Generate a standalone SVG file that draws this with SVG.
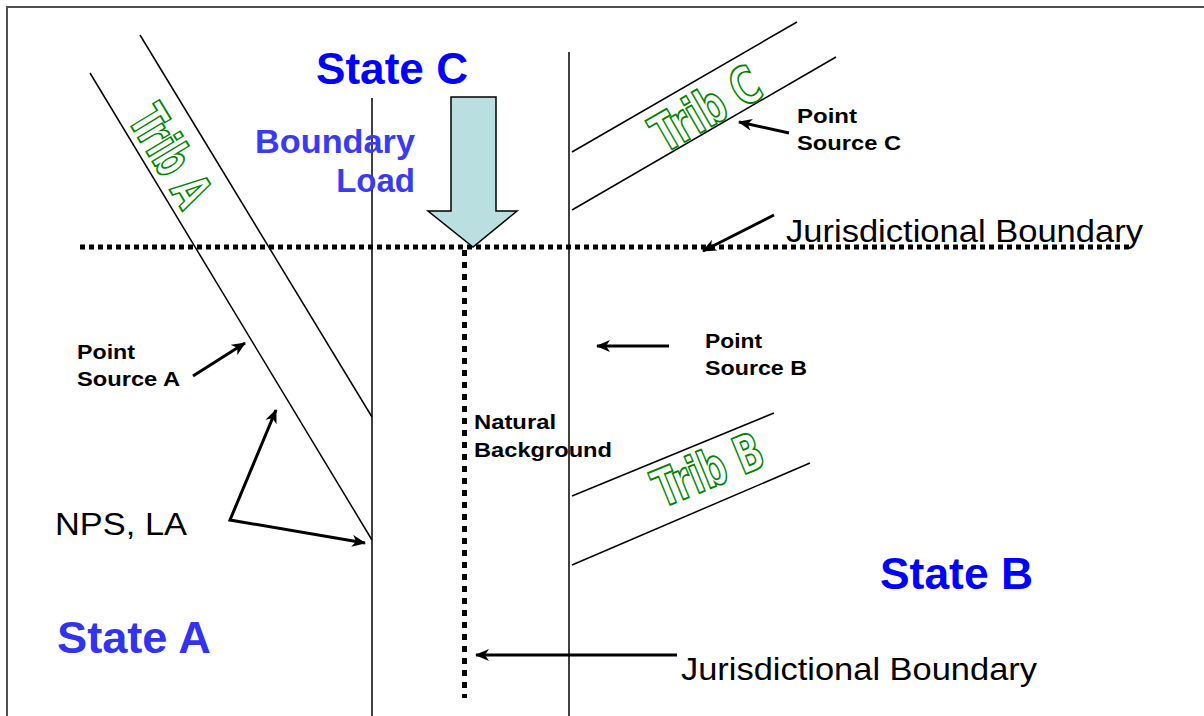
<svg xmlns="http://www.w3.org/2000/svg" width="1204" height="716" viewBox="0 0 1204 716">
<defs>
<style>
.ln{stroke:#000;stroke-width:1.5;fill:none}
.ar{stroke:#000;stroke-width:3;fill:none;marker-end:url(#ah)}
.dot{stroke:#000;stroke-width:5;fill:none}
.big{font-family:"Liberation Sans",Arial,sans-serif;font-weight:bold;font-size:44px}
.bl{font-family:"Liberation Sans",Arial,sans-serif;font-weight:bold;font-size:33px;fill:#3a3af0}
.lab{font-family:"Liberation Sans",Arial,sans-serif;font-weight:bold;font-size:21px;fill:#000}
.reg{font-family:"Liberation Sans",Arial,sans-serif;font-size:32px;fill:#000}
.trib{font-family:"DejaVu Sans Condensed","DejaVu Sans",sans-serif;font-weight:bold;font-size:52px;fill:#fff;stroke:#008000;stroke-width:1.8}
</style>
<marker id="ah" viewBox="0 0 14 12" refX="13" refY="6" markerWidth="14" markerHeight="12" markerUnits="userSpaceOnUse" orient="auto">
<path d="M0,0 L14,6 L0,12 L4,6 z" fill="#000"/>
</marker>
<marker id="ahs" viewBox="0 0 14 12" refX="1" refY="6" markerWidth="14" markerHeight="12" markerUnits="userSpaceOnUse" orient="auto">
<path d="M14,0 L0,6 L14,12 L10,6 z" fill="#000"/>
</marker>
</defs>
<rect width="1204" height="716" fill="#fff"/>
<path d="M7,716 V7 H1204" stroke="#505050" stroke-width="2" fill="none"/>

<g id="rivers">
<line class="ln" x1="372" y1="98" x2="372" y2="716"/>
<line class="ln" x1="569" y1="52" x2="569" y2="716"/>
<line class="ln" x1="90" y1="73" x2="372" y2="540"/>
<line class="ln" x1="140" y1="35" x2="372" y2="417"/>
<line class="ln" x1="572" y1="152" x2="797" y2="22"/>
<line class="ln" x1="572" y1="210" x2="836" y2="57"/>
<line class="ln" x1="572" y1="496" x2="774" y2="413"/>
<line class="ln" x1="572" y1="565" x2="810" y2="463"/>
</g>

<g id="boundaries">
<line class="dot" x1="80" y1="247" x2="1132" y2="247" stroke-dasharray="5 4"/>
<line class="dot" x1="464.5" y1="250" x2="464.5" y2="698" stroke-dasharray="6 6"/>
</g>

<g id="boundary-load-arrow">
<path d="M451,97 H496 V211 H517 L473,247 L428,211 H451 Z" fill="#b9dfe0" stroke="#000" stroke-width="1.5"/>
</g>

<g id="connectors">
<line class="ar" x1="193" y1="376" x2="245" y2="343"/>
<polyline class="ar" points="276,410 230,520 365,543" style="marker-start:url(#ahs)"/>
<line class="ar" x1="669" y1="346" x2="597" y2="346"/>
<line class="ar" x1="789" y1="133" x2="739" y2="122"/>
<line class="ar" x1="774" y1="215" x2="703" y2="251"/>
<line class="ar" x1="677" y1="655" x2="476" y2="655"/>
</g>

<g id="tribA"><text class="trib" transform="translate(170,156) rotate(58.8)" text-anchor="middle" dominant-baseline="central" textLength="108" lengthAdjust="spacingAndGlyphs">Trib A</text></g>
<g id="tribC"><text class="trib" transform="translate(706,109) rotate(-30)" text-anchor="middle" dominant-baseline="central" textLength="118" lengthAdjust="spacingAndGlyphs">Trib C</text></g>
<g id="tribB"><text class="trib" transform="translate(708,470) rotate(-22.3)" text-anchor="middle" dominant-baseline="central" textLength="114" lengthAdjust="spacingAndGlyphs">Trib B</text></g>

<g id="stateC"><text class="big" x="316" y="84" fill="#0000ff" textLength="152" lengthAdjust="spacingAndGlyphs">State C</text></g>
<g id="boundaryLoad">
<text class="bl" x="415" y="153" text-anchor="end" textLength="160" lengthAdjust="spacingAndGlyphs">Boundary</text>
<text class="bl" x="415" y="192" text-anchor="end">Load</text>
</g>
<g id="stateA"><text class="big" x="57" y="653" fill="#3333ee" textLength="154" lengthAdjust="spacingAndGlyphs">State A</text></g>
<g id="stateB"><text class="big" x="880" y="589" fill="#0000ff" textLength="153" lengthAdjust="spacingAndGlyphs">State B</text></g>

<g id="jbTop"><text class="reg" x="786" y="242" textLength="357" lengthAdjust="spacingAndGlyphs">Jurisdictional Boundary</text></g>
<g id="jbBottom"><text class="reg" x="681" y="680" textLength="356" lengthAdjust="spacingAndGlyphs">Jurisdictional Boundary</text></g>
<g id="nps"><text class="reg" x="55" y="535" textLength="132" lengthAdjust="spacingAndGlyphs">NPS, LA</text></g>

<g id="psA">
<text class="lab" x="77" y="359" textLength="58" lengthAdjust="spacingAndGlyphs">Point</text>
<text class="lab" x="77" y="386" textLength="103" lengthAdjust="spacingAndGlyphs">Source A</text>
</g>
<g id="psB">
<text class="lab" x="705" y="348" textLength="57" lengthAdjust="spacingAndGlyphs">Point</text>
<text class="lab" x="705" y="375" textLength="102" lengthAdjust="spacingAndGlyphs">Source B</text>
</g>
<g id="psC">
<text class="lab" x="797" y="123" textLength="60" lengthAdjust="spacingAndGlyphs">Point</text>
<text class="lab" x="797" y="150" textLength="104" lengthAdjust="spacingAndGlyphs">Source C</text>
</g>
<g id="natural">
<text class="lab" x="474" y="429" textLength="82" lengthAdjust="spacingAndGlyphs">Natural</text>
<text class="lab" x="474" y="457" textLength="138" lengthAdjust="spacingAndGlyphs">Background</text>
</g>
</svg>
